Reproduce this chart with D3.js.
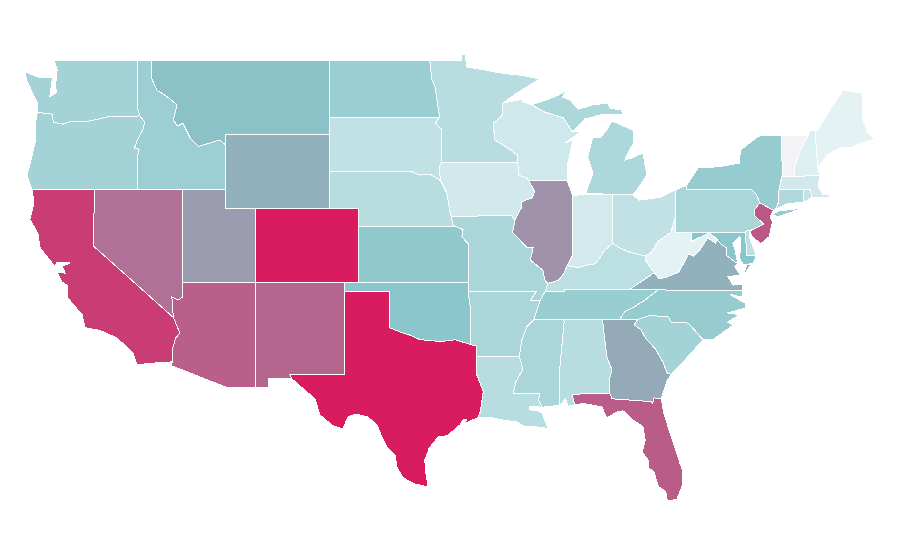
<!DOCTYPE html>
<html><head><meta charset="utf-8">
<script src="https://cdn.jsdelivr.net/npm/d3@7"></script>
<style>html,body{margin:0;padding:0;background:#fff}svg{display:block}</style>
</head><body><svg id="map" width="900" height="560"></svg>
<script>
const stateNames = ["WA","OR","CA","ID","NV","MT","WY","UT","AZ","CO","NM","ND","SD","NE","KS","OK","TX","MN","IA","MO","AR","LA","WI","IL","MS","MI","IN","KY","TN","AL","OH","GA","FL","SC","NC","VA","WV","PA","NY","NJ","DE","MD","CT","RI","MA","VT","NH","ME"];
const stateValues = [38,38,90,41,75,51,56,62,80,100,78,42,25,29,47,49,100,29,18,35,35,29,19,65,35,34,17,27,43,29,25,58,81,38,44,56,10,35,44,82,27,49,32,23,18,0,13,9];
const colorStops = [0,10,50,100];
const colorRange = ["#f3f3f5","#e3f2f4","#88c5ca","#d91b5f"];
const lonDomain = [-124.73,-66.95];
const latDomain = [49,25.12];

// shared borders (lon,lat)
const rev = s => s.trim().split(/\s+/).reverse().join(" ");
const tail = s => s.trim().split(/\s+/).slice(1).join(" ");
const columbia = "-123.9,46.2 -122.9,46.1 -122.8,45.67 -122.15,45.55 -121.8,45.67 -120.3,45.73 -119.1,45.95 -116.92,46";
const snake = "-116.92,46 -116.6,45.67 -116.72,45.25 -117.1,44.7 -117.3,44.25 -116.97,44.2 -117.1,43.8 -117.1,42";
const bitterroot = "-116.17,49 -116.17,48.1 -115.77,47.4 -115,47 -114.4,46.6 -114.65,45.8 -114.4,45.45 -114,45.6 -113.5,44.8 -112.95,44.35 -111.5,44.7 -111.1,44.43";
const nvAz = "-114.04,36.2 -114.3,36.05 -114.75,36.2 -114.65,35.1";
const caAz = "-114.65,35.1 -114.2,34.25 -114.5,34 -114.72,33.35 -114.72,32.7";
const redRiver = "-100,34.56 -99.2,34.3 -98.6,34.15 -97.9,33.9 -97.2,33.85 -96.5,33.8 -95.5,33.9 -94.48,33.64";
const sdMn = "-96.56,45.94 -96.85,45.6 -96.45,45.3 -96.45,43.5";
const ndMn = "-97.23,49 -97.1,48 -96.85,47.5 -96.75,46.9 -96.56,45.94";
const sdIa = "-96.45,43.5 -96.6,43.2 -96.5,42.5";
const neSd = "-96.5,42.5 -97.2,42.85 -97.9,42.8 -98.5,43";
const neIa = "-96.5,42.5 -96.06,41.8 -95.85,40.75 -95.77,40.58";
const neMo = "-95.77,40.58 -95.65,40.1 -95.4,40";
const ksMo = "-95.4,40 -94.97,39.85 -95.05,39.45 -94.63,39.1 -94.63,37";
const mnWi = "-92.26,46.7 -92.26,46.06 -92.93,45.6 -92.8,44.7 -92,44.3 -91.3,43.9 -91.25,43.5";
const iaWi = "-91.25,43.5 -91.2,42.8 -90.65,42.65 -90.5,42.5";
const iaIl = "-90.5,42.5 -90.1,41.9 -90.3,41.56 -91.03,41.35 -91.03,41 -91.45,40.37";
const moIl = "-91.45,40.37 -91.6,39.7 -90.65,38.9 -90.2,38.9 -90.4,38.2 -89.55,37.66 -89.4,37.1 -89.2,36.95";
const moKy = "-89.2,36.95 -89.4,36.5";
const arTn = "-89.4,36.5 -89.75,36 -90.15,35";
const arMs = "-90.15,35 -90.63,34.6 -90.97,33.9 -91.15,33";
const laMs = "-91.15,33 -90.9,32.3 -91.4,31.6 -91.55,31 -89.75,31 -89.85,30.65 -89.6,30.25";
const moAr = "-94.63,36.5 -90,36.5 -90.4,36 -89.75,36";
const okAr = "-94.63,36.5 -94.43,35.4 -94.48,33.64";
const txLa = "-94.04,33 -94.04,32 -93.6,31.1 -93.7,30.55 -93.8,30 -93.95,29.68";
const ilKy = "-89.2,36.95 -88.5,37.1 -88.1,37.5 -87.9,37.9";
const inKy = "-87.9,37.9 -87.1,37.8 -86.5,37.95 -86,38 -85.7,38.3 -85.4,38.7 -84.8,39.1";
const ohKy = "-84.8,39.1 -84.3,38.85 -83.7,38.65 -82.6,38.42";
const ohWv = "-82.6,38.42 -82.2,38.6 -81.75,39.2 -80.85,39.7 -80.52,40.64";
const kyWv = "-82.6,38.42 -82.6,38.2 -81.97,37.53";
const wvVa = "-81.97,37.53 -81.68,37.2 -81.25,37.25 -80.3,37.55 -79.65,38.55 -79.3,38.42 -78.87,38.77 -78.35,39.4 -77.83,39.13 -77.72,39.32";
const tnKy = "-89.4,36.5 -88.05,36.5 -88.05,36.6 -83.68,36.6";
const tnNc = "-81.7,36.59 -82.6,36.05 -83.3,35.7 -84,35.4 -84.32,35";
const alGa = "-85.5,35 -85.2,32.96 -84.86,32.27 -85.05,31.7 -85,31";
const alMs = "-88.15,35 -88.1,34.9 -88.45,31.9 -88.4,30.35";
const gaFl = "-85,31 -84.85,30.7 -82.15,30.55 -82.1,30.4 -82,30.75 -81.5,30.7";
const gaSc = "-83.1,35 -83.35,34.7 -82.9,34.45 -82.55,33.95 -81.9,33.4 -81.4,32.7 -81.1,32.1 -80.85,32.03";
const scNc = "-83.1,35 -82.3,35.2 -81.05,35.15 -80.8,34.82 -79.67,34.8 -78.67,33.9";
const wiMiUp = "-90.3,46.6 -89.4,46.2 -88.15,45.9 -87.7,45.35 -87.6,45.15";
const nyPa = "-79.76,42.27 -79.76,42 -75.35,42 -75.05,41.75 -74.8,41.3";
const njPa = "-74.8,41.3 -75.13,40.97 -75.2,40.65 -74.56,40.15 -75.05,39.95 -75.45,39.8";
const vtNh = "-71.5,44.97 -72,44.27 -72.3,43.6 -72.45,43.2 -72.45,42.72";
const nyVt = "-73.35,44.97 -73.35,43.6 -73.25,43.55 -73.3,42.75";
const nyMaCt = "-73.3,42.75 -73.5,42.05 -73.55,41.3 -73.76,40.95";
const potomac = "-77.72,39.32 -77.5,39.1 -77.05,38.85 -77.04,38.43 -76.3,38";

const stateOutlines = [
/*WA*/`-122.76,49 -117.1,49 -117.1,46.42 ${rev(columbia)} -123.9,46.75 -124.25,47.3 -124.6,47.9 -124.73,48.38 -123.85,48.1 -122.85,48.1 -122.95,47.6 -123.05,47.05 -122.6,47.25 -122.65,47.7 -122.6,48.1 -122.55,48.5`,
/*OR*/`${columbia} ${snake} -120,42 -124.25,42 -124.6,42.8 -124.4,43.35 -124.05,44.55 -124.05,45.4`,
/*CA*/`-124.25,42 -120,42 -120.1,38.98 ${caAz} -115.75,32.65 -117.12,32.55 -117.4,33.2 -118.5,34 -119.63,34.4 -120.65,34.55 -120.85,35.25 -121.87,36.2 -121.87,36.85 -122.2,37 -122.55,37.55 -122,37.5 -122.2,37.9 -121.7,38.02 -121.7,38.1 -122.55,38.1 -122.7,37.84 -123.03,38.2 -123.7,38.85 -123.85,39.65 -124.4,40.4 -124.12,41.3`,
/*ID*/`-117.1,49 ${bitterroot} -111.1,42 -114.04,42 ${rev(snake)} -117.1,46.42`,
/*NV*/`-120,42 -114.04,42 ${nvAz} -120.1,38.98`,
/*MT*/`${bitterroot} -111.1,45 -104.05,45 -104.05,49`,
/*WY*/`-111.1,45 -104.05,45 -104.05,41 -111.1,41`,
/*UT*/`-114.04,42 -111.1,42 -111.1,41 -109.05,41 -109.05,37 -114.04,37`,
/*AZ*/`-114.04,37 -109.05,37 -109.05,31.33 -111.07,31.33 -114.8,32.5 ${rev(caAz)} ${rev(nvAz)}`,
/*CO*/`-109.05,41 -102.05,41 -102.05,37 -109.05,37`,
/*NM*/`-109.05,37 -103,37 -103,36.5 -103.04,32 -106.73,32 -106.6,31.78 -108.2,31.78 -108.2,31.33 -109.05,31.33`,
/*ND*/`-104.05,49 ${ndMn} -104.05,45.94`,
/*SD*/`-104.05,45.94 ${sdMn} ${sdIa} ${neSd} -104.05,43`,
/*NE*/`-104.05,43 ${rev(neSd)} ${neIa} ${neMo} -102.05,40 -102.05,41 -104.05,41`,
/*KS*/`-102.05,40 ${ksMo} -102.05,37`,
/*OK*/`-103,37 -94.63,37 ${okAr} ${rev(redRiver)} -100,36.5 -103,36.5`,
/*TX*/`-103,36.5 -100,36.5 ${redRiver} -94.04,33.55 ${txLa} -94.8,29.4 -94.75,29.6 -95,29.55 -95.18,29.29 -96.06,28.7 -96.67,28.64 -97.3,28 -97.36,27.8 -97.6,27.35 -97.5,27.13 -97.5,26.7 -97.36,26.05 -97.42,25.94 -98.24,26.1 -99.05,26.43 -99.46,27 -99.6,27.67 -100.14,28.1 -100.48,28.64 -100.82,29.29 -101.43,29.72 -102.3,29.88 -102.8,29.72 -103.13,29.07 -103.8,29.24 -104.7,29.83 -105.03,30.7 -105.9,31.3 -106.6,31.78 -106.73,32 -103.04,32`,
/*MN*/`-97.23,49 -95.1,49 -95.1,49.3 -94.84,49.3 -94.7,48.65 -93.6,48.5 -92.26,48.3 -90.97,48.2 -89.75,48 -91.2,47.3 ${mnWi} ${rev(sdMn)} ${rev(ndMn)}`,
/*IA*/`-96.45,43.5 -91.25,43.5 ${iaWi} ${iaIl} -91.65,40.6 -95.77,40.58 ${rev(neIa)} ${rev(sdIa)}`,
/*MO*/`-95.77,40.58 -91.65,40.6 ${moIl} ${moKy} ${rev(moAr)} -94.63,37 ${rev(ksMo)} ${rev(neMo)}`,
/*AR*/`${moAr} ${tail(arTn)} ${arMs} -94.04,33 -94.04,33.55 -94.48,33.64 ${rev(okAr)}`,
/*LA*/`-94.04,33 ${laMs} -90.43,30.3 -90.43,30.1 -89.9,30.05 -89.6,29.95 -89.2,29.1 -90.2,29.2 -90.8,29.2 -91.3,29.45 -92.2,29.55 -93.15,29.7 -93.95,29.68 ${rev(txLa)}`,
/*WI*/`-92.26,46.7 -90.9,46.92 -90.9,46.75 ${wiMiUp} -87,45.13 -88.05,44.54 -87.5,44.7 -87.85,43.46 -87.9,42.5 -90.5,42.5 ${rev(iaWi)} ${rev(mnWi)}`,
/*IL*/`-90.5,42.5 -87.9,42.5 -87.53,41.72 -87.53,39.35 -87.5,38.5 -87.9,37.9 ${rev(ilKy)} ${rev(moIl)} ${rev(iaIl)}`,
/*MS*/`-90.15,35 ${alMs} -89.6,30.25 ${rev(laMs)} ${rev(arMs)}`,
/*MI*/`-86.62,41.81 -86.15,42.92 -86.5,43.78 -86.15,44.86 -85.67,44.81 -85.2,45.24 -84.86,45.73 -83.43,45.24 -83.36,44.59 -83.9,43.78 -83.97,43.62 -83.5,43.73 -82.75,44 -82.48,42.81 -83.15,42 -83.43,41.73 -84.8,41.76|-90.3,46.6 -89.3,46.87 -88.5,47.13 -87.85,47.4 -88.25,47.03 -87.7,46.86 -87.15,46.37 -86.15,46.6 -85.12,46.7 -85,46.43 -84.2,46.32 -84.1,46.05 -85.47,46.1 -86.35,45.9 -86.7,45.84 -87.25,45.35 ${rev(wiMiUp)}`,
/*IN*/`-87.53,41.72 -84.8,41.76 ${rev(inKy)} -87.5,38.5 -87.53,39.35`,
/*KY*/`${rev(moKy)} ${ilKy} ${inKy} ${ohKy} ${kyWv} -83.68,36.6 ${rev(tnKy)}`,
/*TN*/`-90.15,35 -89.75,36 ${tnKy} ${tnNc} -85.5,35 -88.15,35`,
/*AL*/`-88.15,35 ${alGa} -87.57,30.95 -87.37,30.37 -87.85,30.3 -88,30.7 -88.4,30.35 ${rev(alMs)}`,
/*OH*/`-84.8,41.76 -83.43,41.73 -82.97,41.45 -81.6,41.6 -80.52,42 ${rev(ohWv)} ${rev(ohKy)}`,
/*GA*/`-85.5,35 -83.1,35 ${tail(gaSc)} -81.15,31.6 -81.4,31 ${rev(gaFl)} ${tail(rev(alGa))}`,
/*FL*/`-87.57,30.95 ${gaFl} -81.35,29.95 -80.9,28.85 -80.23,27.2 -80.03,26.75 -80.1,25.95 -80.45,25.25 -81.1,25.2 -81.2,25.7 -81.7,25.95 -82,26.75 -82.4,27 -82.4,27.4 -82.8,27.83 -82.6,28.47 -82.75,29.2 -83.4,29.55 -84.1,30.05 -84.5,30 -85.2,29.67 -85.55,30.27 -86.8,30.45 -87.37,30.37`,
/*SC*/`${scNc} -79.7,32.97 -80.85,32.03 ${rev(gaSc)}`,
/*NC*/`-84.32,35 ${rev(tnNc)} -75.96,36.55 -76.03,36.2 -76.85,36.35 -76.1,36 -75.8,35.9 -75.8,35.6 -77,35.35 -76.2,35.25 -77,34.85 -76.6,34.7 -78,33.9 ${rev(scNc)}`,
/*VA*/`-83.68,36.6 -81.7,36.59 -75.96,36.55 -75.96,36.9 -76.63,36.85 -76.97,37.3 -76.15,37.4 -76.5,37.85 -76.3,38 ${rev(potomac)} ${rev(wvVa)}|-75.68,37.97 -75.4,37.97 -76,37.25`,
/*WV*/`${ohWv} -80.52,39.72 -79.48,39.72 -79.48,39.2 -78.4,39.62 -78.2,39.68 ${rev(wvVa)} ${rev(kyWv)}`,
/*PA*/`-80.52,42 ${nyPa} ${njPa} -75.6,39.83 -75.79,39.72 -80.52,39.72`,
/*NY*/`-79.76,42.27 -78.98,43.2 -77.6,43.25 -76.2,43.45 -76.13,44.15 -75,44.85 -74.7,44.97 ${nyVt} ${nyMaCt} -73.9,40.9 ${rev(nyPa)}|-74,40.6 -73.6,40.85 -72.6,40.95 -72,41 -72.7,40.78 -73.5,40.58`,
/*NJ*/`-74.8,41.3 -73.9,40.9 -74.1,40.55 -73.95,40.27 -74.17,39.47 -74.76,39.08 -75.4,39.55 ${rev(njPa)}`,
/*DE*/`-75.79,39.72 -75.6,39.83 -75.45,39.8 -75.55,39.5 -75.2,38.8 -75.05,38.45 -75.7,38.46`,
/*MD*/`-79.48,39.72 -75.79,39.72 -75.7,38.46 -75.05,38.45 -75.25,38.03 -75.9,37.95 -76.2,38.3 -76.1,38.9 -76.16,39.5 -76.64,39.13 -76.5,38.75 -76.3,38 ${tail(rev(potomac))} -78.2,39.68 -78.4,39.62 -79.48,39.2`,
/*CT*/`-73.5,42.05 -71.8,42.02 -71.85,41.32 -72.9,41.27 -73.76,40.95 -73.55,41.3`,
/*RI*/`-71.8,42.02 -71.38,42.02 -71.27,41.58 -71.85,41.32`,
/*MA*/`-73.3,42.75 -70.73,42.8 -70.86,42.2 -70.5,41.73 -70.05,41.75 -70.2,41.58 -71.27,41.58 -71.38,42.02 -71.8,42.02 -73.5,42.05`,
/*VT*/`-73.35,44.97 ${vtNh} ${rev(nyVt)}`,
/*NH*/`-71.5,44.97 -71.4,45.24 -71.07,45.24 -70.87,43.2 -70.73,42.8 -72.45,42.72 ${tail(rev(vtNh))}`,
/*ME*/`-71.07,45.24 -70.87,45.24 -70.05,46.32 -69.17,47.4 -67.87,47.24 -67.8,45.78 -67.46,45.08 -66.98,44.75 -67.87,44.54 -68.5,44.32 -69.37,44.27 -70.2,43.9 -70.87,43.2`
];

const x = d3.scaleLinear().domain(lonDomain).range([25,875.5]);
const y = d3.scaleLinear().domain(latDomain).range([60.5,502]);
const color = d3.scaleLinear().domain(colorStops).range(colorRange).interpolate(d3.interpolateRgb);
const path = d3.geoPath(d3.geoTransform({point(lon,lat){this.stream.point(x(lon),y(lat));}}));

const parseRing = s => { const r = s.trim().split(/\s+/).map(p=>p.split(",").map(Number)); r.push(r[0]); return r; };
const features = stateNames.map((name,i)=>({
  type:"Feature", id:name, properties:{value:stateValues[i]},
  geometry:{type:"MultiPolygon",coordinates:stateOutlines[i].split("|").map(s=>[parseRing(s)])}
}));

d3.select("#map").append("g").selectAll("path").data(features).join("path")
  .attr("d",path)
  .attr("fill",d=>color(d.properties.value))
  .attr("stroke","#fff").attr("stroke-width",1)
  .attr("shape-rendering","crispEdges");
</script></body></html>
